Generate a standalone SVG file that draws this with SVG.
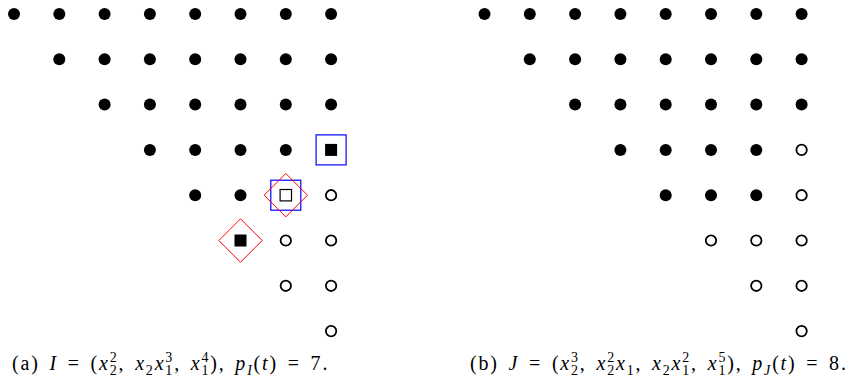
<svg xmlns="http://www.w3.org/2000/svg" xmlns:xlink="http://www.w3.org/1999/xlink" width="864" height="386" viewBox="0 0 864 386">
<style>
.cap{font-family:"Liberation Serif","DejaVu Serif",serif;font-size:20px;fill:#000;letter-spacing:1.8px;word-spacing:3px}
.i{font-style:italic}
.s{font-size:14px}
.open{fill:#fff;stroke:#000;stroke-width:1.8}
.blue{fill:none;stroke:#0000ff;stroke-width:1.2}
.red{fill:none;stroke:#ff0000;stroke-width:1}
</style>
<defs>
<circle id="dot" cx="0" cy="0" r="6" fill="#000"/>
<circle id="ring" class="open" cx="0" cy="0" r="5.2"/>
</defs>
<rect width="864" height="386" fill="#fff"/>
<g id="diagram-a">
<g id="a-row0">
<use href="#dot" x="14" y="14"/><use href="#dot" x="59.3" y="14"/><use href="#dot" x="104.6" y="14"/><use href="#dot" x="149.9" y="14"/><use href="#dot" x="195.2" y="14"/><use href="#dot" x="240.5" y="14"/><use href="#dot" x="285.8" y="14"/><use href="#dot" x="331.1" y="14"/>
</g>
<g id="a-row1">
<use href="#dot" x="59.3" y="59.3"/><use href="#dot" x="104.6" y="59.3"/><use href="#dot" x="149.9" y="59.3"/><use href="#dot" x="195.2" y="59.3"/><use href="#dot" x="240.5" y="59.3"/><use href="#dot" x="285.8" y="59.3"/><use href="#dot" x="331.1" y="59.3"/>
</g>
<g id="a-row2">
<use href="#dot" x="104.6" y="104.6"/><use href="#dot" x="149.9" y="104.6"/><use href="#dot" x="195.2" y="104.6"/><use href="#dot" x="240.5" y="104.6"/><use href="#dot" x="285.8" y="104.6"/><use href="#dot" x="331.1" y="104.6"/>
</g>
<g id="a-row3">
<use href="#dot" x="149.9" y="149.9"/><use href="#dot" x="195.2" y="149.9"/><use href="#dot" x="240.5" y="149.9"/><use href="#dot" x="285.8" y="149.9"/>
<g id="a-gen-x14"><rect x="325.1" y="143.9" width="12" height="12" fill="#000"/><rect class="blue" x="316.1" y="134.9" width="30" height="30"/></g>
</g>
<g id="a-row4">
<use href="#dot" x="195.2" y="195.2"/><use href="#dot" x="240.5" y="195.2"/>
<g id="a-gen-x2x13"><rect x="280.1" y="189.5" width="11.4" height="11.4" fill="#fff" stroke="#000" stroke-width="1.2"/><rect class="blue" x="270.8" y="180.2" width="30" height="30"/><polygon class="red" points="285.8,173.5 307.5,195.2 285.8,216.9 264.1,195.2"/></g>
<use href="#ring" x="331.1" y="195.2"/>
</g>
<g id="a-row5">
<g id="a-gen-x22"><rect x="234.5" y="234.5" width="12" height="12" fill="#000"/><polygon class="red" points="240.5,218.8 262.2,240.5 240.5,262.2 218.8,240.5"/></g>
<use href="#ring" x="285.8" y="240.5"/><use href="#ring" x="331.1" y="240.5"/>
</g>
<g id="a-row6"><use href="#ring" x="285.8" y="285.8"/><use href="#ring" x="331.1" y="285.8"/></g>
<g id="a-row7"><use href="#ring" x="331.1" y="331.1"/></g>
</g>
<g id="diagram-b">
<g id="b-row0">
<use href="#dot" x="484.5" y="14"/><use href="#dot" x="529.8" y="14"/><use href="#dot" x="575.1" y="14"/><use href="#dot" x="620.4" y="14"/><use href="#dot" x="665.7" y="14"/><use href="#dot" x="711" y="14"/><use href="#dot" x="756.3" y="14"/><use href="#dot" x="801.6" y="14"/>
</g>
<g id="b-row1">
<use href="#dot" x="529.8" y="59.3"/><use href="#dot" x="575.1" y="59.3"/><use href="#dot" x="620.4" y="59.3"/><use href="#dot" x="665.7" y="59.3"/><use href="#dot" x="711" y="59.3"/><use href="#dot" x="756.3" y="59.3"/><use href="#dot" x="801.6" y="59.3"/>
</g>
<g id="b-row2">
<use href="#dot" x="575.1" y="104.6"/><use href="#dot" x="620.4" y="104.6"/><use href="#dot" x="665.7" y="104.6"/><use href="#dot" x="711" y="104.6"/><use href="#dot" x="756.3" y="104.6"/><use href="#dot" x="801.6" y="104.6"/>
</g>
<g id="b-row3">
<use href="#dot" x="620.4" y="149.9"/><use href="#dot" x="665.7" y="149.9"/><use href="#dot" x="711" y="149.9"/><use href="#dot" x="756.3" y="149.9"/><use href="#ring" x="801.6" y="149.9"/>
</g>
<g id="b-row4">
<use href="#dot" x="665.7" y="195.2"/><use href="#dot" x="711" y="195.2"/><use href="#dot" x="756.3" y="195.2"/><use href="#ring" x="801.6" y="195.2"/>
</g>
<g id="b-row5"><use href="#ring" x="711" y="240.5"/><use href="#ring" x="756.3" y="240.5"/><use href="#ring" x="801.6" y="240.5"/></g>
<g id="b-row6"><use href="#ring" x="756.3" y="285.8"/><use href="#ring" x="801.6" y="285.8"/></g>
<g id="b-row7"><use href="#ring" x="801.6" y="331.1"/></g>
</g>
<g id="captions">
<text id="cap-a" class="cap" x="12" y="370">(a) <tspan class="i">I</tspan> = (<tspan class="i">x</tspan><tspan class="s" dy="-8">2</tspan><tspan class="s" dx="-8.8" dy="13">2</tspan><tspan dy="-5">, </tspan><tspan class="i">x</tspan><tspan class="s" dy="5">2</tspan><tspan class="i" dy="-5">x</tspan><tspan class="s" dy="-8">3</tspan><tspan class="s" dx="-8.8" dy="13">1</tspan><tspan dy="-5">, </tspan><tspan class="i">x</tspan><tspan class="s" dy="-8">4</tspan><tspan class="s" dx="-8.8" dy="13">1</tspan><tspan dy="-5">), </tspan><tspan class="i">p</tspan><tspan class="s i" dy="5">I</tspan><tspan dy="-5">(</tspan><tspan class="i">t</tspan>) = 7.</text>
<text id="cap-b" class="cap" x="470" y="370">(b) <tspan class="i">J</tspan> = (<tspan class="i">x</tspan><tspan class="s" dy="-8">3</tspan><tspan class="s" dx="-8.8" dy="13">2</tspan><tspan dy="-5">, </tspan><tspan class="i">x</tspan><tspan class="s" dy="-8">2</tspan><tspan class="s" dx="-8.8" dy="13">2</tspan><tspan class="i" dy="-5">x</tspan><tspan class="s" dy="5">1</tspan><tspan dy="-5">, </tspan><tspan class="i">x</tspan><tspan class="s" dy="5">2</tspan><tspan class="i" dy="-5">x</tspan><tspan class="s" dy="-8">2</tspan><tspan class="s" dx="-8.8" dy="13">1</tspan><tspan dy="-5">, </tspan><tspan class="i">x</tspan><tspan class="s" dy="-8">5</tspan><tspan class="s" dx="-8.8" dy="13">1</tspan><tspan dy="-5">), </tspan><tspan class="i">p</tspan><tspan class="s i" dy="5">J</tspan><tspan dy="-5">(</tspan><tspan class="i">t</tspan>) = 8.</text>
</g>
</svg>
